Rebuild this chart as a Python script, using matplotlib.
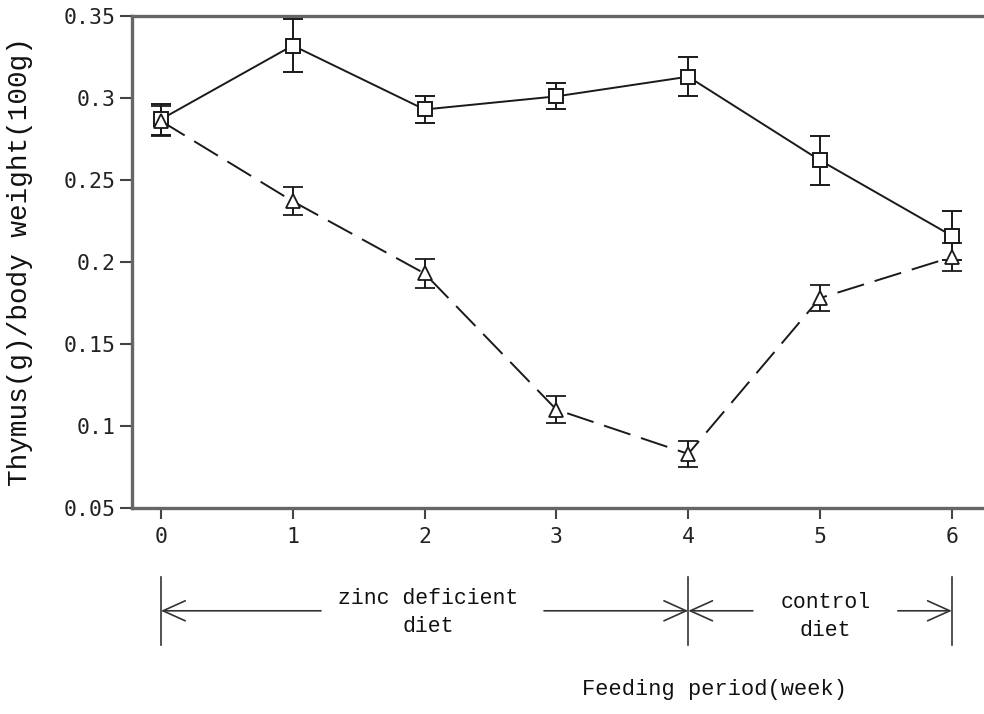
import numpy as np
import matplotlib
matplotlib.use("Agg")
import matplotlib.pyplot as plt

plt.rcParams['lines.scale_dashes'] = False

weeks = [0, 1, 2, 3, 4, 5, 6]
# thymus / body weight, open squares (solid line)
square_mean = [0.287, 0.332, 0.293, 0.301, 0.313, 0.262, 0.216]
square_err = [0.0095, 0.016, 0.0085, 0.008, 0.012, 0.015, 0.015]
# open triangles (dashed line)
tri_mean = [0.286, 0.237, 0.193, 0.110, 0.083, 0.178, 0.203]
tri_err = [0.009, 0.0085, 0.009, 0.008, 0.008, 0.008, 0.0085]

yticks = [0.05, 0.1, 0.15, 0.2, 0.25, 0.3, 0.35]
ytick_labels = ["0.05", "0.1", "0.15", "0.2", "0.25", "0.3", "0.35"]

fig = plt.figure(figsize=(9.84, 7.14), dpi=100)
ax = fig.add_axes([0.1341, 0.2885, 0.8659, 0.6891])

ax.errorbar(weeks, square_mean, yerr=square_err, color="#1a1a1a", lw=1.4,
            marker="s", ms=10.5, mfc="white", mec="#1a1a1a", mew=1.4,
            elinewidth=1.4, capsize=7, capthick=2, zorder=3)
ax.errorbar(weeks, tri_mean, yerr=tri_err, color="#1a1a1a", lw=1.4,
            dashes=(20, 8), marker="^", ms=10.5, mfc="white", mec="#1a1a1a",
            mew=1.3, elinewidth=1.4, capsize=7, capthick=2, zorder=3)

ax.set_xlim(-0.22, 6.244)
ax.set_ylim(0.05, 0.35)
ax.set_yticks(yticks)
ax.set_yticklabels(ytick_labels)
ax.set_xticks(weeks)

for s in ["left", "bottom", "top"]:
    ax.spines[s].set_color("#666666")
    ax.spines[s].set_linewidth(2.4)
ax.spines["right"].set_visible(False)

ax.tick_params(axis="y", direction="out", length=9, width=1.5, color="#444444",
               pad=3, labelsize=15.5, labelcolor="#222222")
ax.tick_params(axis="x", direction="out", length=8, width=1.5, color="#444444",
               pad=6, labelsize=15.5, labelcolor="#222222")
for lab in ax.get_xticklabels() + ax.get_yticklabels():
    lab.set_family("DejaVu Sans Mono")

# diet periods below the axis
ax2 = fig.add_axes([0.1341, 0.0896, 0.8659, 0.1121])
ax2.set_xlim(ax.get_xlim())
ax2.set_ylim(0, 1)
ax2.axis("off")

for xb in [0, 4, 6]:
    ax2.plot([xb, xb], [0.06, 0.91], color="#333333", lw=1.2)

ya = 0.49
arrow_kw = dict(arrowstyle="->,head_length=0.8,head_width=0.36", lw=1.2,
                color="#333333", shrinkA=0, shrinkB=0, mutation_scale=20)
ax2.annotate("", xy=(0, ya), xytext=(1.214, ya), arrowprops=arrow_kw)
ax2.annotate("", xy=(4, ya), xytext=(2.906, ya), arrowprops=arrow_kw)
ax2.annotate("", xy=(4, ya), xytext=(4.49, ya), arrowprops=arrow_kw)
ax2.annotate("", xy=(6, ya), xytext=(5.59, ya), arrowprops=arrow_kw)

ax2.text(2.026, 0.47, "zinc deficient\ndiet", ha="center", va="center",
         family="Liberation Mono", fontsize=15.5, color="#111111", linespacing=1.45)
ax2.text(5.04, 0.42, "control\ndiet", ha="center", va="center",
         family="Liberation Mono", fontsize=15.5, color="#111111", linespacing=1.4)

fig.text(20 / 984, 1 - 262 / 714, "Thymus(g)/body weight(100g)", rotation=90,
         ha="center", va="center", family="Liberation Mono", fontsize=20,
         color="#111111")
fig.text(715 / 984, 1 - 690 / 714, "Feeding period(week)", ha="center",
         va="center", family="Liberation Mono", fontsize=15.8, color="#111111")

fig.savefig("out.png", dpi=100)
